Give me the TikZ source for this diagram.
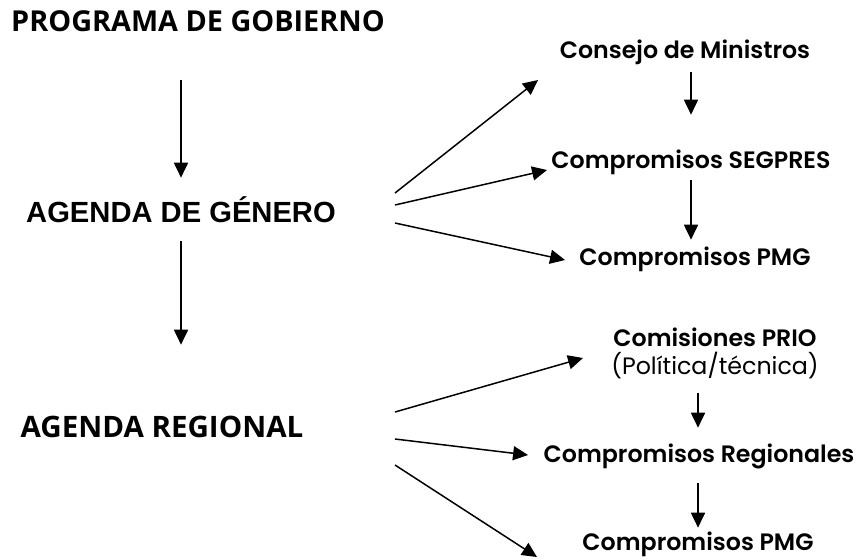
\documentclass[tikz,border=0pt]{standalone}
\usepackage{fontspec}
\usepackage{tikz}
\usetikzlibrary{arrows.meta}
\newfontfamily\segfont{Open Sans}
\newfontfamily\arialfont{Liberation Sans}
\newfontfamily\gothfont{Poppins}
\newfontfamily\gothbold{Poppins SemiBold}

\tikzset{
  lft/.style={inner sep=0pt, anchor=base, text height=0.4cm, text depth=0.08cm},
  rgt/.style={inner sep=0pt, anchor=base, text height=0.3cm, text depth=0.08cm,
    font=\gothbold\fontsize{13.5}{15}\selectfont},
  arr/.style={line width=0.85pt, -{Triangle[length=8.5pt, width=8pt]}}
}

\begin{document}
\begin{tikzpicture}[x=0.02cm, y=-0.02cm]
					\useasboundingbox (0,0) rectangle (857,559);
					% Left column
					\node[lft, font=\segfont\bfseries\fontsize{16.4}{18}\selectfont] (prog) at (198,31) {PROGRAMA DE GOBIERNO};
					\node[lft, font=\arialfont\bfseries\fontsize{16.6}{18}\selectfont] (genero) at (181,222) {AGENDA DE GÉNERO};
					\node[lft, font=\segfont\bfseries\fontsize{16.8}{18}\selectfont] (regional) at (162,437) {AGENDA REGIONAL};
					\draw[arr, shorten <=0.9cm, shorten >=0.48cm] (genero.north |- prog.south) -- (genero.north);
					\draw[arr, shorten <=0.3cm, shorten >=1.44cm] (genero.south) -- (genero.south |- regional.north);
					% Upper branch
					\node[rgt] (consejo) at (685,58) {Consejo de Ministros};
					\node[rgt] (segpres) at (691,168) {Compromisos SEGPRES};
					\node[rgt] (pmgA) at (695,265) {Compromisos PMG};
					\draw[arr, shorten <=0.2cm, shorten >=0.76cm] (segpres.north |- consejo.south) -- (segpres.north);
					\draw[arr, shorten <=0.16cm, shorten >=0.2cm] (segpres.south) -- (segpres.south |- pmgA.north);
					% Lower branch
					\node[rgt] (prio) at (715,346) {Comisiones PRIO};
					\node[rgt, font=\gothfont\fontsize{13.5}{15}\selectfont] (prioSub) at (715,374) {(Política/técnica)};
					\node[rgt] (regionales) at (699,462) {Compromisos Regionales};
					\node[rgt] (pmgB) at (698,550) {Compromisos PMG};
					\draw[arr, shorten <=0.3cm, shorten >=0.38cm] (pmgB.north |- prioSub.south) -- (pmgB.north |- regionales.north);
					\draw[arr, shorten <=0.34cm, shorten >=0.14cm] (pmgB.north |- regionales.south) -- (pmgB.north);
					% Fan arrows
					\coordinate (g1) at (395,193); \coordinate (g2) at (395,205); \coordinate (g3) at (395,223);
					\coordinate (tConsejo) at (538,80); \coordinate (tSegpres) at (547,170); \coordinate (tPmgA) at (565,260);
					\draw[arr] (g1) -- (tConsejo);
					\draw[arr] (g2) -- (tSegpres);
					\draw[arr] (g3) -- (tPmgA);
					\coordinate (r1) at (395,412); \coordinate (r2) at (395,439); \coordinate (r3) at (395,465);
					\coordinate (tPrio) at (583,358); \coordinate (tRegionales) at (528,455); \coordinate (tPmgB) at (537,557);
					\draw[arr] (r1) -- (tPrio);
					\draw[arr] (r2) -- (tRegionales);
					\draw[arr] (r3) -- (tPmgB);
				\end{tikzpicture}
\end{document}
